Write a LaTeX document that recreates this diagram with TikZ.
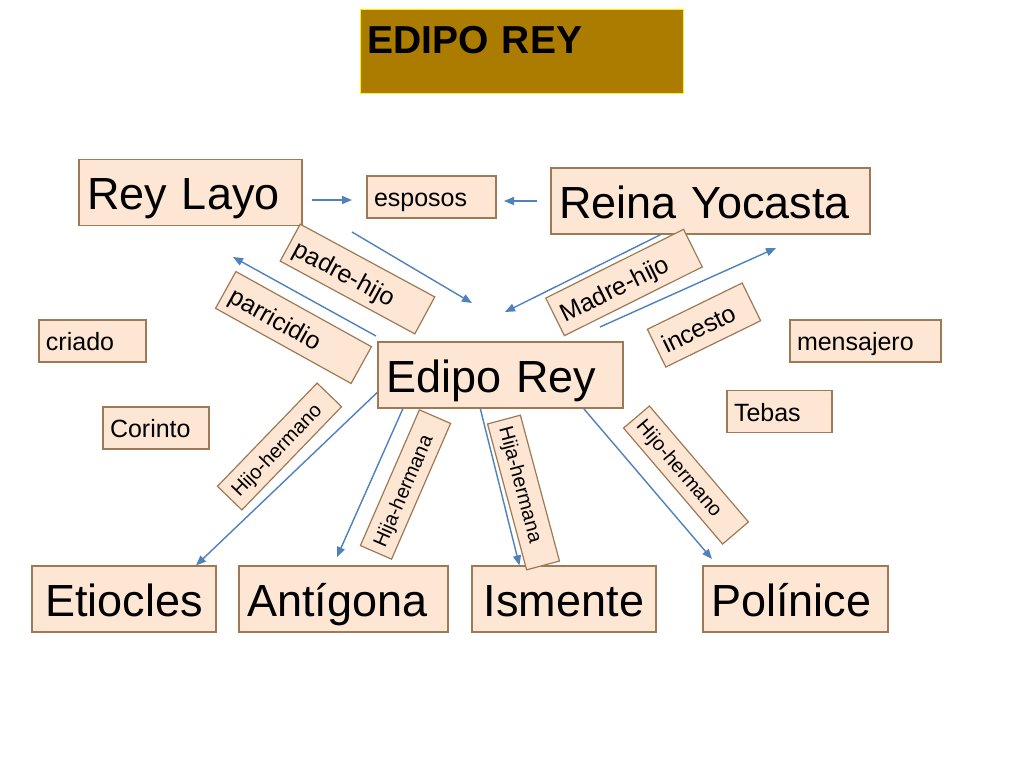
\documentclass[tikz,border=0pt]{standalone}
\usepackage{fontspec}
\setmainfont{Liberation Sans}
\usetikzlibrary{arrows.meta}

\definecolor{relleno}{HTML}{FDE6D3}
\definecolor{borde}{HTML}{9C7A56}
\definecolor{flecha}{HTML}{4F81BD}
\definecolor{oro}{HTML}{AC7C00}

\begin{document}
\begin{tikzpicture}[x=0.5pt, y=-0.5pt,
    caja/.style={draw=borde, fill=relleno, line width=0.6pt, inner ysep=0pt, align=left},
    grande/.style={caja, inner xsep=4pt, font=\fontsize{22.5}{27}\selectfont, text height=25pt, text depth=8pt},
    chica/.style={caja, inner xsep=3.5pt, font=\fontsize{12.5}{15}\selectfont, text height=15.4pt, text depth=5.6pt},
    rel/.style={caja, inner xsep=3.5pt, font=\fontsize{10}{12}\selectfont, text height=12pt, text depth=5pt},
    flec/.style={draw=flecha, line width=0.7pt, -{Triangle[length=5pt,width=4pt]}}]

    \fill[white] (0,0) rectangle (1024,768);
    \useasboundingbox (0,0) rectangle (1024,768);

    % titulo
    \node[draw=yellow, fill=oro, line width=0.6pt, anchor=north west, inner xsep=3.5pt, inner ysep=0pt,
          text width=154.5pt, align=left, text height=22pt, text depth=20pt,
          font=\bfseries\fontsize{19.5}{23}\selectfont] (titulo) at (360,9) {EDIPO REY};

    % personajes
    \node[grande, text width=103.5pt] (layo) at (190.5,192.5) {Rey Layo};
    \node[grande, text width=151.5pt] (reina) at (710.5,201) {Reina Yocasta};
    \node[grande, text width=114.5pt] (edipo) at (500.5,375) {Edipo Rey};
    \node[grande, text width=84pt, align=center] (etiocles) at (124,599) {Etiocles};
    \node[grande, text width=96.5pt] (antigona) at (343.5,599) {Antígona};
    \node[grande, text width=84pt, align=center] (ismente) at (564,599) {Ismente};
    \node[grande, text width=84.5pt] (polinice) at (795.5,599) {Polínice};

    \node[chica, text width=57.5pt] (esposos) at (431.5,197) {esposos};
    \node[chica, text width=46.5pt] (criado) at (92.5,341) {criado};
    \node[chica, text width=68.5pt] (mensajero) at (865.5,341) {mensajero};
    \node[chica, text width=45.5pt] (tebas) at (779.5,411.5) {Tebas};
    \node[chica, text width=46pt] (corinto) at (156,428) {Corinto};

    % relaciones
    \node[chica, rotate=-28.4, text width=69.5pt] (padre) at (357.5,279) {padre-hijo};
    \node[chica, rotate=-29, text width=70.5pt] (parricidio) at (293.5,327.5) {parricidio};
    \node[chica, rotate=26.5, text width=70pt] (madre) at (624,282.5) {Madre-hijo};
    \node[chica, rotate=26, text width=45.75pt] (incesto) at (704,325) {incesto};
    \node[rel, rotate=46, text width=64.75pt] (hijoA) at (279.5,446.5) {Hijo-hermano};
    \node[rel, rotate=66.5, text width=67pt] (hijaA) at (405.5,484.5) {Hija-hermana};
    \node[rel, rotate=-75, text width=68.5pt] (hijaB) at (523.5,492.5) {Hija-hermana};
    \node[rel, rotate=-49.5, text width=69.25pt] (hijoB) at (686,475) {Hijo-hermano};

    % extremos libres de las flechas
    \coordinate (la) at (312,200);
    \coordinate (lb) at (352,200);
    \coordinate (ya) at (537,201);
    \coordinate (yb) at (504,201);
    \coordinate (pa) at (352,232);
    \coordinate (pb) at (472,303);
    \coordinate (qa) at (376,336);
    \coordinate (qb) at (233,257);
    \coordinate (mb) at (505,312);
    \coordinate (ia) at (600,327);
    \coordinate (ib) at (776,248);
    \coordinate (an) at (337,557);
    \coordinate (pn) at (712,559);

    \draw[flec] (la) -- (lb);
    \draw[flec] (ya) -- (yb);
    \draw[flec] (pa) -- (pb);
    \draw[flec] (qa) -- (qb);
    \draw[flec] (reina.214.8) -- (mb);
    \draw[flec] (ia) -- (ib);
    \draw[flec] (edipo.188) -- (etiocles.25.6);
    \draw[flec] (edipo.199.4) -- (an);
    \draw[flec] (edipo.239.4) -- (ismente.143);
    \draw[flec] (edipo.338.4) -- (pn);

\end{tikzpicture}
\end{document}
